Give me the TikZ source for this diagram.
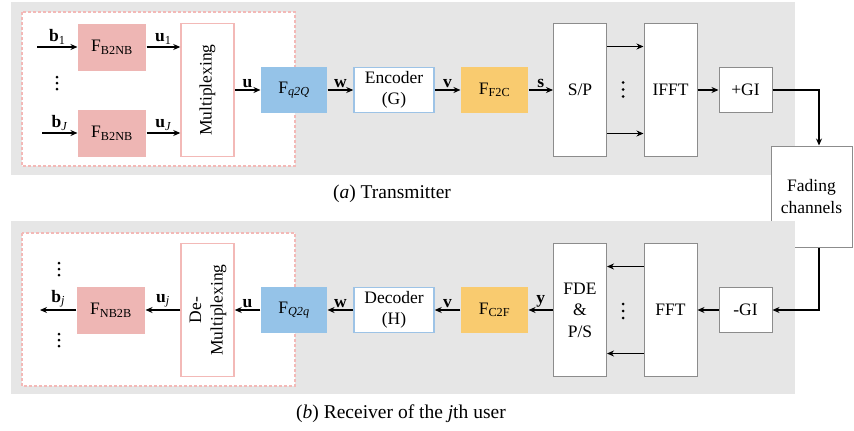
\documentclass[tikz,border=0pt]{standalone}
\usepackage{fontspec}
\setmainfont{Liberation Serif}
\usetikzlibrary{arrows.meta}

\definecolor{panelgray}{HTML}{E6E6E6}
\definecolor{bitpink}{HTML}{EEB6B4}
\definecolor{dotpink}{HTML}{F3B9B7}
\definecolor{symblue}{HTML}{95C3E8}
\definecolor{encblue}{HTML}{9DC3E6}
\definecolor{codeorange}{HTML}{F9CB6F}
\definecolor{boxgray}{HTML}{8C8C8C}

\begin{document}
\begin{tikzpicture}
    [x=1pt, y=-1pt, >={Stealth[length=7pt,width=6pt]}, line width=1.1pt,
     every node/.style={font=\fontsize{17.5}{21.5}\selectfont, inner sep=1pt},
     pinkblk/.style={fill=bitpink, minimum width=68pt, minimum height=47pt},
     blueblk/.style={fill=symblue, minimum width=66pt, minimum height=46pt},
     orangeblk/.style={fill=codeorange, minimum width=67pt, minimum height=46pt},
     codeblk/.style={draw=encblue, line width=1.5pt, fill=white, minimum width=80pt, minimum height=45pt, align=center},
     muxblk/.style={draw=dotpink, line width=1.5pt, fill=white, minimum width=53pt, minimum height=133pt},
     ofdmblk/.style={draw=boxgray, line width=1pt, fill=white, minimum width=53pt, minimum height=133pt, align=center},
     giblk/.style={draw=boxgray, line width=1pt, fill=white, minimum width=53pt, minimum height=45pt},
     sig/.style={above, inner sep=2pt},
     userbox/.style={draw=dotpink, fill=white, line width=2.6pt, dash pattern=on 2.6pt off 2.4pt},
     caption/.style={font=\fontsize{19.5}{22}\selectfont}]

  \useasboundingbox (0,0) rectangle (854,431);

  % (a) transmitter
  \fill[panelgray] (11,2) rectangle (795,175);
  \draw[userbox] (22,12) rectangle (295,166);

  \coordinate (b1in) at (37,47);
  \coordinate (bJin) at (42,133);
  \node[pinkblk] (b2nb1) at (112,47) {F\textsubscript{B2NB}};
  \node[pinkblk] (b2nbJ) at (112,133) {F\textsubscript{B2NB}};
  \node[muxblk] (mux) at (207.5,90) {\rotatebox{90}{Multiplexing}};
  \node[blueblk] (q2Q) at (294,90) {F\textsubscript{\textit{q2Q}}};
  \node[codeblk] (enc) at (394,90) {Encoder\\(G)};
  \node[orangeblk] (f2c) at (494.5,90) {F\textsubscript{F2C}};
  \node[ofdmblk] (sp) at (580,90) {S/P};
  \node[ofdmblk] (ifft) at (670.5,90) {IFFT};
  \node[giblk] (gi) at (745.5,90) {+GI};

  % vertical dots
  \foreach \y in {77,83,89} \fill (57,\y) circle (1.5pt);
  \foreach \y in {82.5,89.5,96.5} \fill (623,\y) circle (1.5pt);

  \draw[->] (b1in) -- node[sig] {\textbf{b}\textsubscript{1}} (b2nb1);
  \draw[->] (bJin) -- node[sig] {\textbf{b}\textsubscript{\textit{J}}} (b2nbJ);
  \draw[->] (b2nb1) -- node[sig] {\textbf{u}\textsubscript{1}} (b2nb1 -| mux.west);
  \draw[->] (b2nbJ) -- node[sig] {\textbf{u}\textsubscript{\textit{J}}} (b2nbJ -| mux.west);
  \draw[->] (mux) -- node[sig] {\textbf{u}} (q2Q);
  \draw[->] (q2Q) -- node[sig] {\textbf{w}} (enc);
  \draw[->] (enc) -- node[sig] {\textbf{v}} (f2c);
  \draw[->] (f2c) -- node[sig] {\textbf{s}} (sp);
  \draw[->] ([yshift=43.5pt]sp.east) -- ([yshift=43.5pt]ifft.west);
  \draw[->] ([yshift=-43.5pt]sp.east) -- ([yshift=-43.5pt]ifft.west);
  \draw[->] (ifft) -- (gi);

  \node[caption] (capa) at (392,194) {(\textit{a}) Transmitter};

  % channel
  \node[draw=boxgray, line width=1pt, fill=white, minimum width=81pt, minimum height=101pt, align=center]
    (fading) at (811.5,196.5) {Fading\\channels};
  \draw[->] (gi.east) -| ([xshift=7.5pt]fading.north);

  % (b) receiver
  \fill[panelgray] (11,221) rectangle (795,394);
  \draw[userbox] (22,233) rectangle (295,386);

  \coordinate (bjout) at (40,310);
  \node[pinkblk] (nb2b) at (111,310) {F\textsubscript{NB2B}};
  \node[muxblk] (demux) at (207.5,310)
    {\rotatebox{90}{\begin{tabular}{@{}c@{}}De-\\Multiplexing\end{tabular}}};
  \node[blueblk] (Q2q) at (294,310) {F\textsubscript{\textit{Q2q}}};
  \node[codeblk] (dec) at (394,310) {Decoder\\(H)};
  \node[orangeblk] (c2f) at (494.5,310) {F\textsubscript{C2F}};
  \node[ofdmblk] (fde) at (580,310) {FDE\\\&\\P/S};
  \node[ofdmblk] (fft) at (670.5,310) {FFT};
  \node[giblk] (mgi) at (745.5,310) {-GI};

  % vertical dots
  \foreach \y in {263,269,275} \fill (59,\y) circle (1.5pt);
  \foreach \y in {334,340,346} \fill (59,\y) circle (1.5pt);
  \foreach \y in {304,311,318} \fill (623,\y) circle (1.5pt);

  \draw[->] ([xshift=7.5pt]fading.south) |- (mgi.east);
  \draw[->] (mgi) -- (fft);
  \draw[->] ([yshift=43.5pt]fft.west) -- ([yshift=43.5pt]fde.east);
  \draw[->] ([yshift=-43.5pt]fft.west) -- ([yshift=-43.5pt]fde.east);
  \draw[->] (fde) -- node[sig] {\textbf{y}} (c2f);
  \draw[->] (c2f) -- node[sig] {\textbf{v}} (dec);
  \draw[->] (dec) -- node[sig] {\textbf{w}} (Q2q);
  \draw[->] (Q2q) -- node[sig] {\textbf{u}} (demux);
  \draw[->] (demux) -- node[sig] {\textbf{u}\textsubscript{\textit{j}}} (nb2b);
  \draw[->] (nb2b) -- node[sig] {\textbf{b}\textsubscript{\textit{j}}} (bjout);

  \node[caption] (capb) at (401,414) {(\textit{b}) Receiver of the \textit{j}th user};
\end{tikzpicture}
\end{document}
